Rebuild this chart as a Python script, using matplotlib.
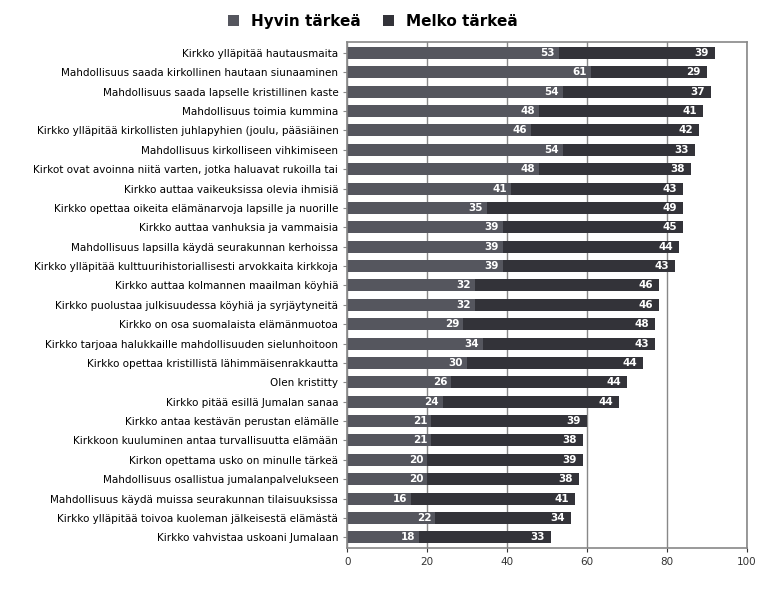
import matplotlib
matplotlib.use('Agg')
import matplotlib.pyplot as plt
import numpy as np

categories = [
    "Kirkko ylläpitää hautausmaita",
    "Mahdollisuus saada kirkollinen hautaan siunaaminen",
    "Mahdollisuus saada lapselle kristillinen kaste",
    "Mahdollisuus toimia kummina",
    "Kirkko ylläpitää kirkollisten juhlapyhien (joulu, pääsiäinen",
    "Mahdollisuus kirkolliseen vihkimiseen",
    "Kirkot ovat avoinna niitä varten, jotka haluavat rukoilla tai",
    "Kirkko auttaa vaikeuksissa olevia ihmisiä",
    "Kirkko opettaa oikeita elämänarvoja lapsille ja nuorille",
    "Kirkko auttaa vanhuksia ja vammaisia",
    "Mahdollisuus lapsilla käydä seurakunnan kerhoissa",
    "Kirkko ylläpitää kulttuurihistoriallisesti arvokkaita kirkkoja",
    "Kirkko auttaa kolmannen maailman köyhiä",
    "Kirkko puolustaa julkisuudessa köyhiä ja syrjäytyneitä",
    "Kirkko on osa suomalaista elämänmuotoa",
    "Kirkko tarjoaa halukkaille mahdollisuuden sielunhoitoon",
    "Kirkko opettaa kristillistä lähimmäisenrakkautta",
    "Olen kristitty",
    "Kirkko pitää esillä Jumalan sanaa",
    "Kirkko antaa kestävän perustan elämälle",
    "Kirkkoon kuuluminen antaa turvallisuutta elämään",
    "Kirkon opettama usko on minulle tärkeä",
    "Mahdollisuus osallistua jumalanpalvelukseen",
    "Mahdollisuus käydä muissa seurakunnan tilaisuuksissa",
    "Kirkko ylläpitää toivoa kuoleman jälkeisestä elämästä",
    "Kirkko vahvistaa uskoani Jumalaan",
]
hyvin = [53, 61, 54, 48, 46, 54, 48, 41, 35, 39, 39, 39, 32,
         32, 29, 34, 30, 26, 24, 21, 21, 20, 20, 16, 22, 18]
melko = [39, 29, 37, 41, 42, 33, 38, 43, 49, 45, 44, 43, 46,
         46, 48, 43, 44, 44, 44, 39, 38, 39, 38, 41, 34, 33]

c1 = "#55565e"
c2 = "#333339"

fig = plt.figure(figsize=(7.77, 5.95), dpi=100)
ax = fig.add_axes([0.447, 0.079, 0.514, 0.85])

y = np.arange(len(categories))
b1 = ax.barh(y, hyvin, height=0.62, color=c1, label="Hyvin tärkeä")
b2 = ax.barh(y, melko, left=hyvin, height=0.62, color=c2, label="Melko tärkeä")

for i in range(len(categories)):
    ax.text(hyvin[i] - 1, y[i], str(hyvin[i]), ha='right', va='center',
            color='white', fontsize=7.5, fontweight='bold')
    ax.text(hyvin[i] + melko[i] - 1.5, y[i], str(melko[i]), ha='right', va='center',
            color='white', fontsize=7.5, fontweight='bold')

ax.set_yticks(y)
ax.set_yticklabels(categories, fontsize=7.5)
ax.set_ylim(len(categories) - 0.45, -0.55)
ax.set_xlim(0, 100)
ax.set_xticks([0, 20, 40, 60, 80, 100])
ax.tick_params(axis='x', labelsize=7.5, length=3, colors='#333333')
ax.tick_params(axis='y', length=3, color='#888888')
ax.xaxis.grid(True, color='#888888', linewidth=1)
ax.set_axisbelow(True)
for s in ax.spines.values():
    s.set_color('#888888')
    s.set_linewidth(1.2)

fig.legend(handles=[b1, b2], loc='upper center', bbox_to_anchor=(0.48, 1.0),
           ncol=2, frameon=False, fontsize=11, handlelength=0.7, handleheight=0.7,
           columnspacing=1.5, prop={'weight': 'bold', 'size': 11})

fig.savefig("out.png", dpi=100, facecolor='white')
